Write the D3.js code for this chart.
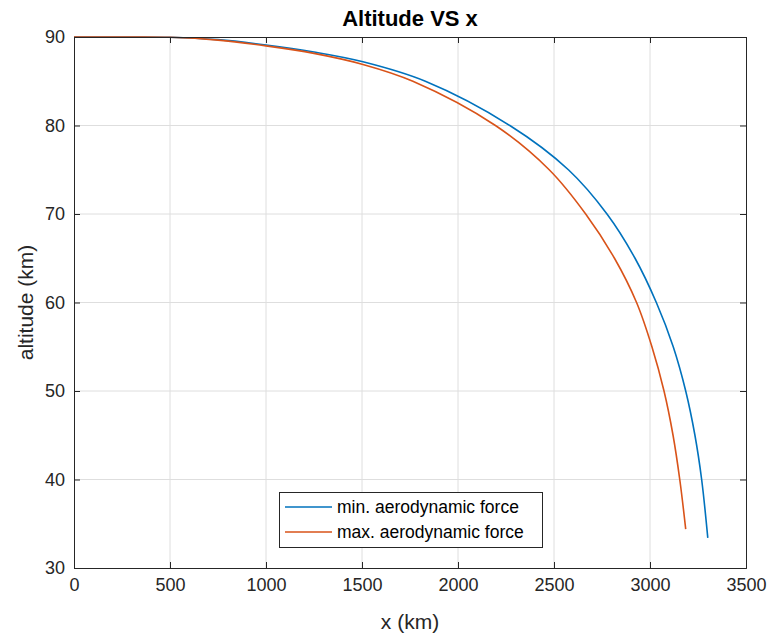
<!DOCTYPE html>
<html>
<head>
<meta charset="utf-8">
<script src="https://cdn.jsdelivr.net/npm/d3@7"></script>
<style>
  html, body { margin: 0; padding: 0; background: #fff; }
  svg { display: block; font-family: "Liberation Sans", Arial, Helvetica, sans-serif; }
</style>
</head>
<body>
<svg id="chart" width="772" height="637"></svg>
<script>
// ---- data ----
const xTicks = [0, 500, 1000, 1500, 2000, 2500, 3000, 3500];
const yTicks = [30, 40, 50, 60, 70, 80, 90];
const seriesNames = ["min. aerodynamic force", "max. aerodynamic force"];
const minForceX = [0, 250, 500, 750, 1000, 1250, 1505, 1830, 2270, 2575, 2776, 2922, 3033, 3121, 3186, 3234, 3269, 3301];
const minForceAlt = [90, 90, 89.97, 89.7, 89.1, 88.3, 87.2, 85, 80, 75, 70, 65, 60, 55, 50, 45, 40, 33.4];
const maxForceX = [0, 250, 500, 750, 1000, 1250, 1505, 1765, 2195, 2475, 2665, 2815, 2930, 3010, 3073, 3120, 3155, 3186];
const maxForceAlt = [90, 90, 89.97, 89.65, 89.0, 88.15, 86.9, 85, 80, 75, 70, 65, 60, 55, 50, 45, 40, 34.4];
const colors = ["#0072BD", "#D95319"];

// ---- layout ----
const svg = d3.select("#chart");
const pLeft = 74, pRight = 746, pTop = 37, pBottom = 568;
const x = d3.scaleLinear().domain([0, 3500]).range([pLeft, pRight]);
const y = d3.scaleLinear().domain([30, 90]).range([pBottom, pTop]);
const axisColor = "#262626";
const tickLen = 6;

// grid
const grid = svg.append("g");
grid.selectAll("line.gx").data(xTicks.slice(1, -1)).enter().append("line")
  .attr("x1", d => x(d)).attr("x2", d => x(d)).attr("y1", pTop).attr("y2", pBottom)
  .attr("stroke", "#dedede").attr("stroke-width", 1);
grid.selectAll("line.gy").data(yTicks.slice(1, -1)).enter().append("line")
  .attr("y1", d => y(d)).attr("y2", d => y(d)).attr("x1", pLeft).attr("x2", pRight)
  .attr("stroke", "#dedede").attr("stroke-width", 1);

// axes (inward ticks on all sides)
const axB = d3.axisBottom(x).tickValues(xTicks).tickSize(-tickLen).tickPadding(10).tickFormat(d3.format("d"));
const axT = d3.axisTop(x).tickValues(xTicks).tickSize(-tickLen).tickFormat("");
const axL = d3.axisLeft(y).tickValues(yTicks).tickSize(-tickLen).tickPadding(9).tickFormat(d3.format("d"));
const axR = d3.axisRight(y).tickValues(yTicks).tickSize(-tickLen).tickFormat("");

function styleAxis(g) {
  g.select(".domain").attr("stroke", axisColor).attr("stroke-width", 1);
  g.selectAll(".tick line").attr("stroke", axisColor).attr("stroke-width", 1);
  g.selectAll(".tick text").attr("fill", axisColor).attr("font-size", 18)
    .attr("font-family", "Liberation Sans, Arial, sans-serif");
}

// lines
const lineGen = d3.line().x(d => x(d[0])).y(d => y(d[1])).curve(d3.curveCatmullRom.alpha(0.5));
const series = [
  minForceX.map((v, i) => [v, minForceAlt[i]]),
  maxForceX.map((v, i) => [v, maxForceAlt[i]])
];
svg.append("g").selectAll("path").data(series).enter().append("path")
  .attr("d", lineGen).attr("fill", "none")
  .attr("stroke", (d, i) => colors[i]).attr("stroke-width", 1.6)
  .attr("stroke-linejoin", "round");

svg.append("g").attr("transform", `translate(0,${pBottom})`).call(axB).call(styleAxis);
svg.append("g").attr("transform", `translate(0,${pTop})`).call(axT).call(styleAxis);
svg.append("g").attr("transform", `translate(${pLeft},0)`).call(axL).call(styleAxis);
svg.append("g").attr("transform", `translate(${pRight},0)`).call(axR).call(styleAxis);

// title & labels
svg.append("text").attr("x", (pLeft + pRight) / 2).attr("y", 26).attr("text-anchor", "middle")
  .attr("font-size", 22).attr("font-weight", "bold").attr("fill", "#000").text("Altitude VS x");
svg.append("text").attr("x", (pLeft + pRight) / 2).attr("y", 629).attr("text-anchor", "middle")
  .attr("font-size", 21).attr("fill", axisColor).text("x (km)");
svg.append("text").attr("transform", `translate(33,${(pTop + pBottom) / 2}) rotate(-90)`)
  .attr("text-anchor", "middle").attr("font-size", 21).attr("fill", axisColor).text("altitude (km)");

// legend
const lg = svg.append("g");
lg.append("rect").attr("x", 279.5).attr("y", 492.5).attr("width", 263).attr("height", 55)
  .attr("fill", "#fff").attr("stroke", axisColor).attr("stroke-width", 1);
seriesNames.forEach((name, i) => {
  const yy = 507 + i * 25;
  lg.append("line").attr("x1", 285).attr("x2", 332).attr("y1", yy).attr("y2", yy)
    .attr("stroke", colors[i]).attr("stroke-width", 1.6);
  lg.append("text").attr("x", 337).attr("y", yy).attr("dy", "0.35em")
    .attr("font-size", 17.5).attr("fill", "#000").text(name);
});
</script>
</body>
</html>
